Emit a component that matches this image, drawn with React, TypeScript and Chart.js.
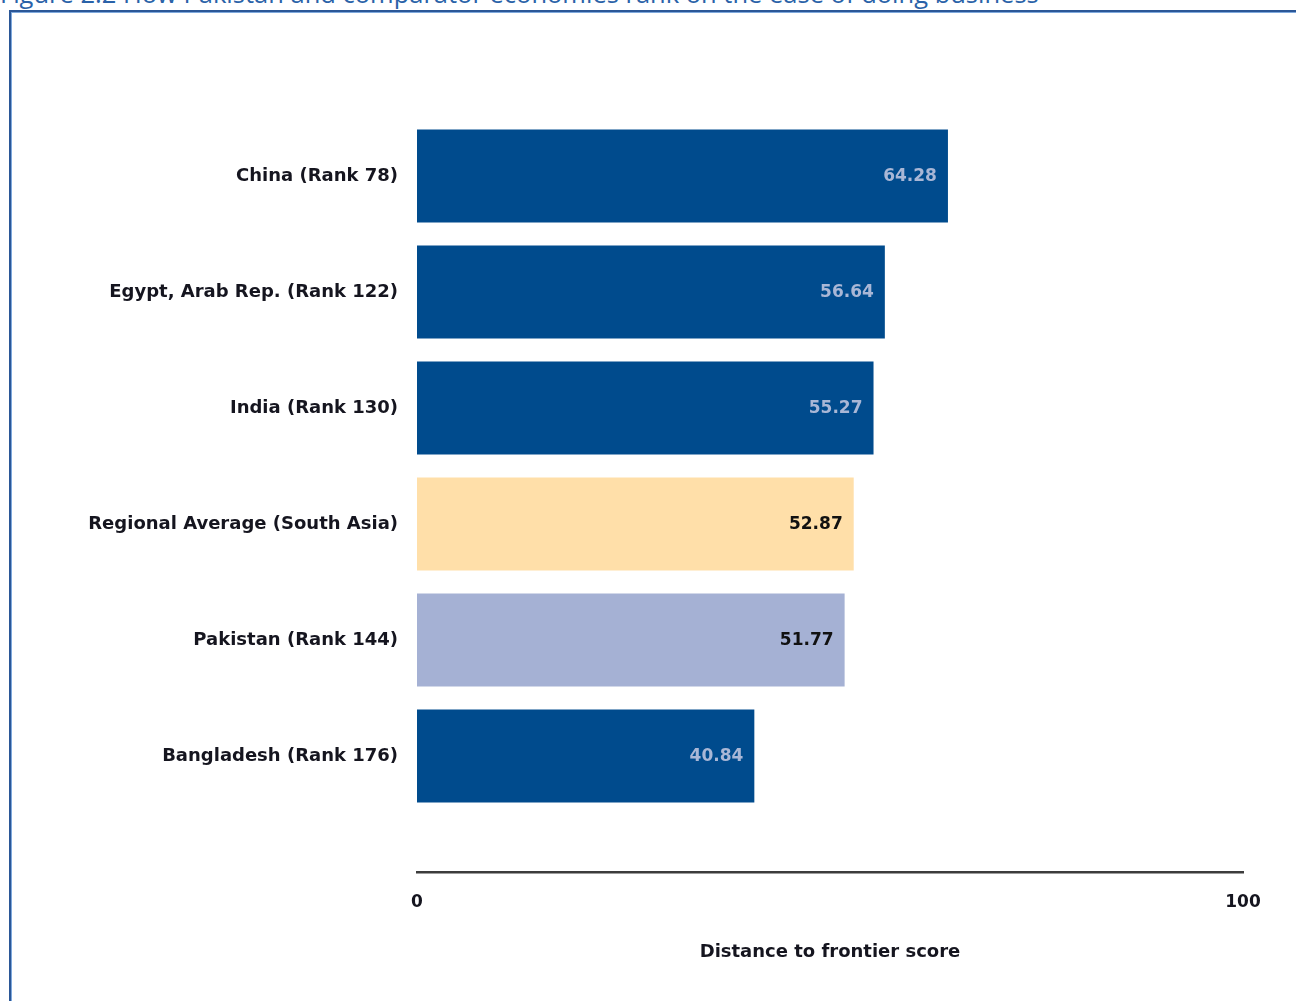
import { useEffect, useRef } from "react";
import { Chart, registerables } from "chart.js";

Chart.register(...registerables);

const figureTitle =
  "Figure 2.2 How Pakistan and comparator economies rank on the ease of doing business";
const categories = [
  "China (Rank 78)",
  "Egypt, Arab Rep. (Rank 122)",
  "India (Rank 130)",
  "Regional Average (South Asia)",
  "Pakistan (Rank 144)",
  "Bangladesh (Rank 176)",
];
const scores = [64.28, 56.64, 55.27, 52.87, 51.77, 40.84];
const barColors = ["#004b8d", "#004b8d", "#004b8d", "#ffdfa9", "#a5b1d4", "#004b8d"];
const valueLabelColors = ["#a9b7d6", "#a9b7d6", "#a9b7d6", "#111111", "#111111", "#a9b7d6"];
const xTicks = [0, 100];
const xTitle = "Distance to frontier score";

const FONT = "'DejaVu Sans', sans-serif";
const TEXT = "#15151f";

const valueLabels = {
  id: "valueLabels",
  afterDatasetsDraw(chart: any) {
    const ctx = chart.ctx;
    const meta = chart.getDatasetMeta(0);
    ctx.save();
    ctx.font = `bold 17px ${FONT}`;
    ctx.textAlign = "right";
    ctx.textBaseline = "middle";
    meta.data.forEach((el: any, i: number) => {
      ctx.fillStyle = valueLabelColors[i];
      ctx.fillText(scores[i].toFixed(2), el.x - 11, el.y + 1);
    });
    ctx.restore();
  },
};

export default function App() {
  const ref = useRef<HTMLCanvasElement>(null);

  useEffect(() => {
    if (!ref.current) return;
    const chart = new Chart(ref.current, {
      type: "bar",
      data: {
        datasets: [
          {
            data: scores.map((v, i) => ({ x: v, y: i })),
            backgroundColor: barColors,
            borderWidth: 0,
            barPercentage: 0.8,
            categoryPercentage: 1,
          },
        ],
      },
      plugins: [valueLabels],
      options: {
        indexAxis: "y",
        animation: false,
        responsive: false,
        layout: { padding: { top: 118, right: 53, left: 0, bottom: 0 } },
        plugins: { legend: { display: false }, tooltip: { enabled: false } },
        scales: {
          x: {
            type: "linear",
            min: 0,
            max: 100,
            offset: false,
            afterBuildTicks: (axis: any) => {
              axis.ticks = xTicks.map((v) => ({ value: v }));
            },
            grid: { display: false, drawTicks: false },
            border: { display: true, color: "#3c3c3c", width: 2.5 },
            ticks: {
              padding: 20,
              color: TEXT,
              font: { family: FONT, size: 17, weight: "bold" },
            },
            title: {
              display: true,
              text: xTitle,
              color: TEXT,
              font: { family: FONT, size: 18, weight: "bold" },
              padding: { top: 0, bottom: 38 },
            },
            afterFit: (s: any) => {
              s.height = 129;
            },
          },
          y: {
            type: "linear",
            reverse: true,
            offset: false,
            min: -0.5,
            max: 6,
            afterBuildTicks: (axis: any) => {
              axis.ticks = categories.map((_, i) => ({ value: i }));
            },
            grid: { display: false, drawTicks: false, offset: false },
            border: { display: false },
            ticks: {
              padding: 19,
              color: TEXT,
              font: { family: FONT, size: 18, weight: "bold" },
              callback: (v: any) => categories[v] ?? "",
            },
            afterFit: (s: any) => {
              s.width = 417;
            },
          },
        },
      },
    } as any);
    return () => chart.destroy();
  }, []);

  return (
    <div
      style={{
        position: "absolute",
        left: 0,
        top: 0,
        width: 1296,
        height: 1001,
        overflow: "hidden",
        background: "#ffffff",
      }}
    >
      <div
        style={{
          position: "absolute",
          left: 0,
          top: -19,
          fontFamily: "'Open Sans', sans-serif",
          fontSize: 25.5,
          lineHeight: "25px",
          color: "#2a62a8",
          whiteSpace: "nowrap",
        }}
      >
        {figureTitle}
      </div>
      <div
        style={{
          position: "absolute",
          left: 9,
          top: 10,
          right: -20,
          bottom: -20,
          borderLeft: "2px solid #2b5797",
          borderTop: "2px solid #2b5797",
          boxShadow: "inset 1px 1px 0 #7fa9dd",
        }}
      />
      <canvas
        ref={ref}
        width={1296}
        height={1001}
        style={{ position: "absolute", left: 0, top: 0, width: 1296, height: 1001 }}
      />
    </div>
  );
}
